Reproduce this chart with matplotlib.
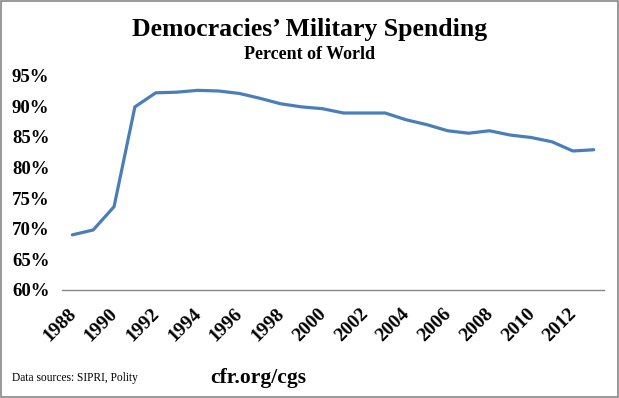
import matplotlib.pyplot as plt
from matplotlib.patches import Rectangle
from matplotlib.ticker import FuncFormatter
from matplotlib.transforms import ScaledTranslation

plt.rcParams["font.family"] = ["Liberation Serif", "DejaVu Serif"]

years = list(range(1988, 2014))
share = [69.0, 69.8, 73.6, 89.9, 92.2, 92.3, 92.6, 92.5, 92.1, 91.3,
         90.4, 89.9, 89.6, 88.9, 88.9, 88.9, 87.8, 87.0, 86.0, 85.6,
         86.0, 85.3, 84.9, 84.2, 82.7, 82.9]
tick_years = list(range(1988, 2013, 2))
y_ticks = [60, 65, 70, 75, 80, 85, 90, 95]

fig = plt.figure(figsize=(6.19, 3.98), dpi=100)
ax = fig.add_axes([0.100, 0.2714, 0.876, 0.5385])

ax.plot(years, share, color="#4a7ebb", linewidth=2.3, solid_capstyle="round")

ax.set_xlim(1987.5, 2013.5)
ax.set_ylim(60, 95)
ax.set_yticks(y_ticks)
ax.yaxis.set_major_formatter(FuncFormatter(lambda v, p: "%d%%" % v))
ax.set_xticks(tick_years)
ax.set_xticklabels([str(y) for y in tick_years], rotation=45, ha="right",
                   rotation_mode="anchor", fontsize=14, fontweight="bold")
for lab in ax.get_yticklabels():
    lab.set_fontsize(13.5)
    lab.set_fontweight("bold")
ax.tick_params(axis="both", length=0)
ax.tick_params(axis="y", pad=36)
ax.tick_params(axis="x", pad=11)
for lab in ax.get_yticklabels():
    lab.set_horizontalalignment("left")
shift = ScaledTranslation(-5 / 100, 0, fig.dpi_scale_trans)
for lab in ax.get_xticklabels():
    lab.set_transform(lab.get_transform() + shift)

for s in ["top", "right", "left"]:
    ax.spines[s].set_visible(False)
ax.spines["bottom"].set_color("#878787")
ax.spines["bottom"].set_linewidth(1.0)

fig.text(0.5, 0.927, "Democracies\u2019 Military Spending", ha="center",
         va="center", fontsize=18.5, fontweight="bold")
fig.text(0.5, 0.862, "Percent of World", ha="center", va="center",
         fontsize=13, fontweight="bold")
fig.text(0.019, 0.05, "Data sources: SIPRI, Polity", ha="left",
         va="center", fontsize=8.3)
fig.text(0.418, 0.05, "cfr.org/cgs", ha="center", va="center",
         fontsize=15.5, fontweight="bold")

fig.patches.append(Rectangle((0.001, 0.002), 0.997, 0.996,
                             transform=fig.transFigure, fill=False,
                             edgecolor="#878787", linewidth=1.2))

fig.savefig("out.png", dpi=100)
